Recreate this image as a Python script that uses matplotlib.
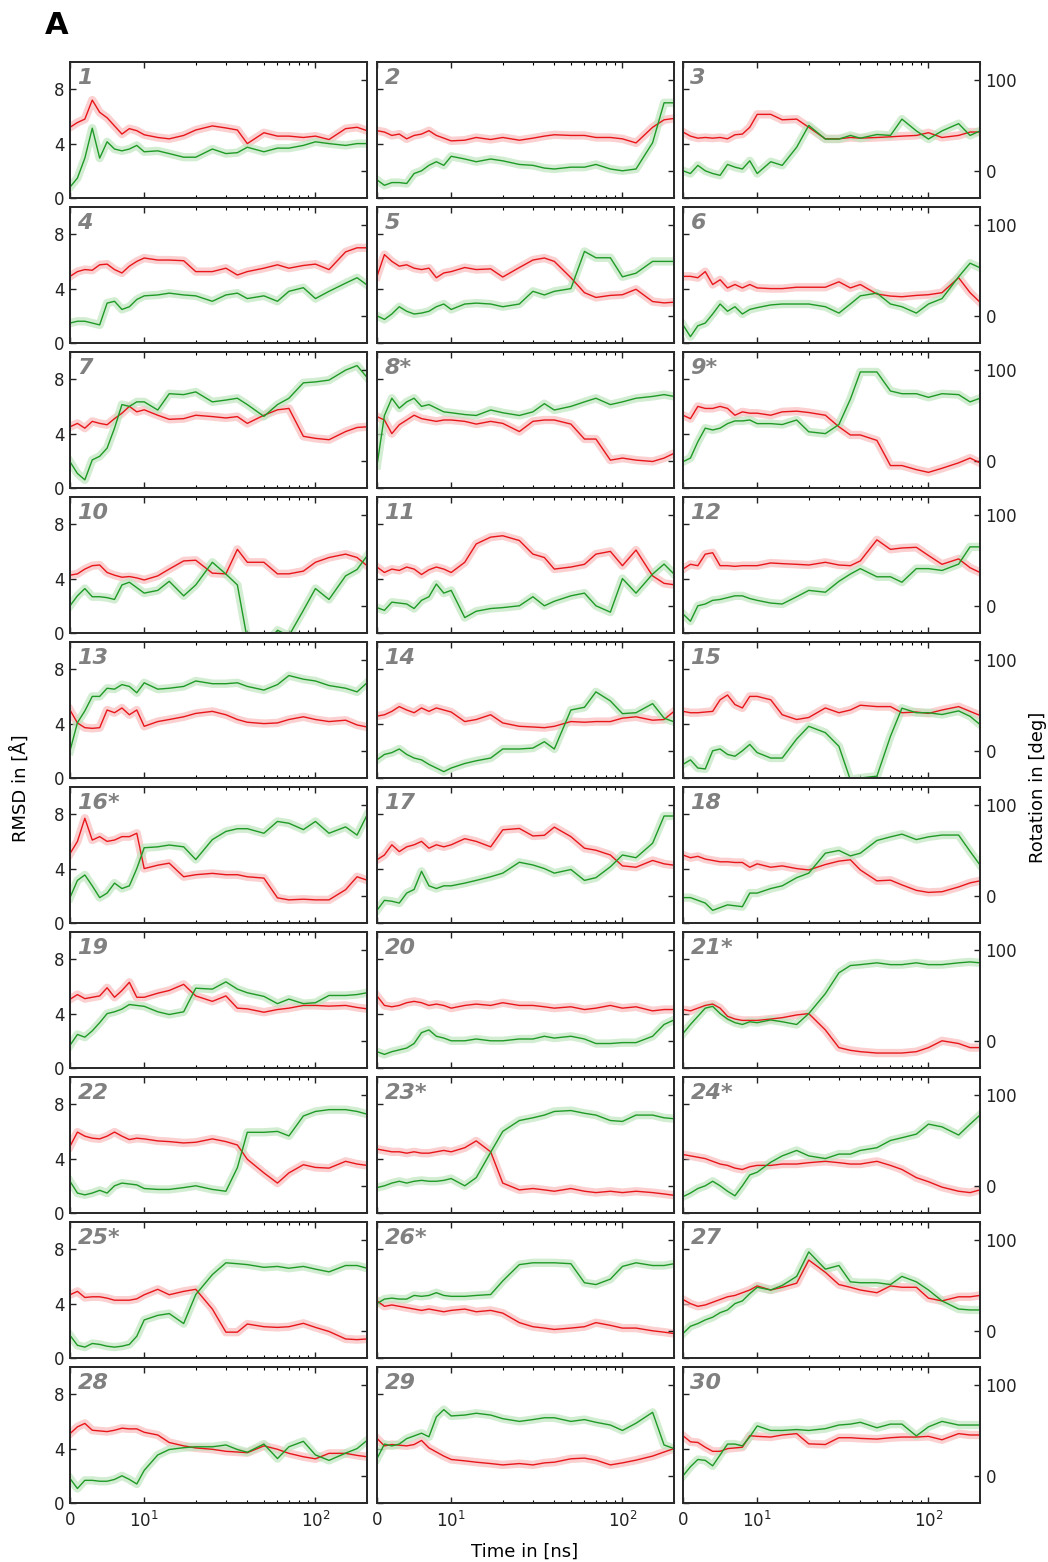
import numpy as np
import matplotlib.pyplot as plt
from matplotlib.ticker import FixedLocator

# time axis of every run [ns]
T = [0, 1, 2, 3, 4, 5, 6, 7, 8, 9, 10, 12, 14, 17, 20, 25, 30, 35, 40, 50,
     60, 70, 85, 100, 120, 150, 175, 200]

run_labels = ['1', '2', '3', '4', '5', '6', '7', '8*', '9*', '10',
              '11', '12', '13', '14', '15', '16*', '17', '18', '19', '20',
              '21*', '22', '23*', '24*', '25*', '26*', '27', '28', '29', '30']

# RMSD [A] (red) and rotation [deg] (green), one pair per run
rmsd_1 = [5.2, 5.55, 5.8, 7.2, 6.3, 5.9, 5.3, 4.7, 5.1, 4.95, 4.65, 4.45, 4.35, 4.6, 5.0, 5.3, 5.15, 5.0, 4.0, 4.8, 4.55, 4.55, 4.45, 4.55, 4.3, 5.1, 5.2, 4.95]
rot_1 = [-18, -8, 14, 47, 14, 32, 24, 22, 24, 28, 21, 22, 19, 15, 15, 24, 19, 20, 26, 21, 25, 25, 28, 32, 30, 28, 30, 30]
rmsd_2 = [4.95, 4.85, 4.6, 4.7, 4.35, 4.6, 4.7, 4.95, 4.6, 4.4, 4.2, 4.25, 4.45, 4.3, 4.45, 4.25, 4.4, 4.55, 4.65, 4.6, 4.6, 4.45, 4.45, 4.35, 4.05, 5.2, 5.75, 5.85]
rot_2 = [-10, -16, -13, -13, -14, -3, 0, 6, 10, 6, 16, 13, 10, 13, 11, 7, 6, 3, 2, 4, 4, 7, 2, 0, 2, 31, 75, 75]
rmsd_3 = [4.85, 4.55, 4.4, 4.45, 4.4, 4.45, 4.35, 4.65, 4.7, 5.2, 6.15, 6.15, 5.75, 5.8, 5.2, 4.35, 4.35, 4.45, 4.4, 4.45, 4.5, 4.55, 4.6, 4.8, 4.45, 4.6, 4.85, 4.85]
rot_3 = [0, -3, 6, 0, -3, -5, 7, 4, 2, 11, -3, 10, 6, 26, 50, 35, 35, 39, 36, 40, 39, 57, 44, 35, 44, 52, 39, 44]
rmsd_4 = [4.9, 5.25, 5.4, 5.35, 5.75, 5.8, 5.4, 5.15, 5.65, 6.0, 6.25, 6.1, 6.1, 6.05, 5.25, 5.25, 5.5, 5.0, 5.25, 5.5, 5.75, 5.5, 5.7, 5.8, 5.4, 6.7, 7.0, 7.0]
rot_4 = [-8, -6, -6, -8, -10, 14, 16, 7, 10, 18, 22, 23, 25, 23, 22, 16, 23, 25, 19, 22, 16, 27, 31, 19, 27, 36, 42, 34]
rmsd_5 = [4.9, 6.5, 6.0, 5.65, 5.75, 5.5, 5.4, 5.5, 4.8, 5.15, 5.25, 5.55, 5.4, 5.45, 4.85, 5.55, 6.1, 6.25, 6.0, 4.8, 3.7, 3.35, 3.5, 3.55, 3.95, 3.05, 2.95, 3.0]
rot_5 = [0, -4, 2, 10, 5, 2, 3, 5, 10, 13, 7, 13, 14, 13, 10, 13, 27, 23, 27, 30, 71, 64, 64, 43, 47, 60, 60, 60]
rmsd_6 = [4.9, 4.9, 4.8, 5.25, 4.3, 4.65, 4.05, 4.3, 4.05, 4.3, 4.05, 4.0, 4.0, 4.1, 4.1, 4.1, 4.5, 4.05, 4.3, 3.6, 3.45, 3.4, 3.5, 3.55, 3.7, 4.8, 3.7, 3.0]
rot_6 = [-10, -23, -11, -8, 2, 13, 5, 10, 2, 7, 9, 12, 13, 13, 13, 10, 3, 13, 22, 25, 13, 10, 3, 13, 19, 43, 58, 53]
rmsd_7 = [4.5, 4.75, 4.4, 4.9, 4.75, 4.65, 5.1, 5.5, 6.0, 5.6, 5.75, 5.35, 5.05, 5.1, 5.35, 5.25, 5.15, 5.25, 4.75, 5.35, 5.75, 5.85, 3.8, 3.65, 3.55, 4.15, 4.45, 4.5]
rot_7 = [-1, -14, -21, 1, 5, 14, 36, 62, 60, 65, 65, 56, 74, 73, 76, 65, 67, 69, 62, 49, 62, 69, 86, 87, 89, 100, 105, 92]
rmsd_8 = [5.25, 5.0, 4.0, 4.65, 5.0, 5.35, 5.1, 5.0, 4.9, 5.0, 5.0, 4.9, 4.7, 4.9, 4.75, 4.15, 4.9, 5.0, 5.0, 4.7, 3.6, 3.6, 2.05, 2.2, 2.05, 1.95, 2.2, 2.55]
rot_8 = [-5, 50, 69, 58, 65, 69, 60, 62, 58, 54, 53, 51, 50, 56, 53, 50, 54, 63, 56, 60, 65, 69, 62, 65, 69, 71, 73, 71]
rmsd_9 = [5.35, 5.1, 6.0, 5.85, 5.85, 6.0, 5.85, 5.35, 5.6, 5.5, 5.5, 5.35, 5.6, 5.65, 5.55, 5.35, 4.5, 3.9, 3.9, 3.5, 1.65, 1.65, 1.35, 1.15, 1.45, 1.85, 2.2, 1.85]
rot_9 = [-1, 3, 21, 36, 34, 36, 41, 44, 44, 45, 41, 41, 40, 45, 32, 30, 40, 68, 98, 98, 77, 74, 74, 70, 74, 73, 65, 69]
rmsd_10 = [4.25, 4.35, 4.7, 4.95, 5.0, 4.45, 4.25, 4.1, 4.15, 4.05, 3.9, 4.2, 4.7, 5.3, 5.35, 4.4, 4.35, 6.15, 5.2, 5.2, 4.35, 4.35, 4.55, 5.2, 5.55, 5.8, 5.55, 4.95]
rot_10 = [0, 11, 19, 10, 10, 9, 7, 23, 26, 20, 14, 17, 27, 11, 23, 48, 35, 23, -37, -45, -27, -33, -5, 19, 7, 33, 40, 55]
rmsd_11 = [4.85, 4.45, 4.7, 4.6, 4.85, 4.7, 4.3, 4.65, 4.85, 4.7, 4.45, 5.2, 6.55, 7.05, 7.15, 6.8, 5.8, 5.55, 4.7, 4.85, 5.05, 5.8, 6.0, 4.95, 6.1, 4.2, 3.65, 3.55]
rot_11 = [-2, -5, 4, 3, 2, -3, 6, 10, 24, 14, 17, -13, -6, -3, -2, 0, 10, 0, 5, 11, 14, 0, -7, 30, 14, 35, 46, 35]
rmsd_12 = [4.7, 5.05, 4.95, 5.8, 5.9, 4.95, 4.95, 4.9, 4.95, 4.95, 4.95, 5.15, 5.1, 5.05, 5.0, 5.2, 5.0, 4.95, 5.3, 6.85, 6.15, 6.25, 6.3, 5.7, 5.05, 5.45, 4.8, 4.45]
rot_12 = [-9, -17, 0, 2, 6, 7, 9, 11, 11, 8, 6, 3, 2, 10, 17, 15, 27, 35, 41, 32, 32, 26, 41, 41, 39, 46, 65, 65]
rmsd_13 = [5.0, 4.05, 3.7, 3.65, 3.7, 5.0, 4.8, 5.15, 4.65, 5.0, 3.8, 4.15, 4.3, 4.5, 4.75, 4.9, 4.65, 4.3, 4.1, 4.0, 4.05, 4.3, 4.5, 4.3, 4.15, 4.25, 3.9, 3.75]
rot_13 = [0, 31, 44, 60, 60, 69, 68, 73, 71, 64, 75, 68, 69, 71, 77, 74, 74, 75, 71, 67, 73, 83, 79, 77, 72, 69, 65, 75]
rmsd_14 = [4.55, 4.65, 4.9, 5.25, 5.0, 4.8, 5.15, 4.9, 5.15, 5.0, 4.85, 4.15, 4.3, 4.65, 4.05, 3.8, 3.75, 3.7, 3.8, 4.15, 4.1, 4.15, 4.15, 4.4, 4.5, 4.25, 4.3, 4.9]
rot_14 = [-10, -4, -2, 2, -4, -8, -10, -15, -19, -23, -19, -14, -11, -8, 2, 2, 3, 10, 2, 45, 48, 65, 55, 41, 42, 52, 36, 32]
rmsd_15 = [4.9, 4.8, 4.8, 4.85, 4.9, 5.75, 6.1, 5.4, 5.15, 6.0, 6.0, 5.75, 4.65, 4.3, 4.45, 5.15, 4.8, 5.0, 5.35, 5.25, 5.25, 4.8, 4.85, 4.75, 5.0, 5.25, 4.9, 4.6]
rot_15 = [-15, -10, -19, -20, 0, 2, -4, -6, 0, 7, -2, -8, -8, 13, 27, 20, 5, -32, -30, -28, 16, 47, 42, 42, 40, 44, 38, 29]
rmsd_16 = [5.1, 6.0, 7.7, 6.1, 6.35, 6.0, 6.1, 6.35, 6.35, 6.6, 4.0, 4.25, 4.4, 3.4, 3.55, 3.65, 3.55, 3.55, 3.4, 3.3, 1.85, 1.7, 1.75, 1.7, 1.7, 2.45, 3.4, 3.15]
rot_16 = [-2, 17, 23, 11, -2, 3, 14, 8, 11, 30, 53, 54, 56, 54, 40, 62, 71, 74, 74, 69, 82, 80, 73, 82, 69, 76, 67, 89]
rmsd_17 = [4.65, 5.0, 5.75, 5.25, 5.6, 5.75, 6.0, 5.5, 5.75, 5.6, 5.75, 6.2, 6.0, 5.6, 6.85, 6.95, 6.4, 6.45, 7.05, 6.35, 5.5, 5.35, 5.0, 4.2, 4.1, 4.6, 4.35, 4.25]
rot_17 = [-16, -5, -6, -8, 3, 7, 27, 11, 8, 11, 11, 14, 17, 21, 25, 37, 34, 30, 25, 29, 17, 20, 32, 45, 42, 58, 88, 88]
rmsd_18 = [5.0, 4.8, 4.9, 4.7, 4.6, 4.5, 4.5, 4.45, 4.45, 4.1, 4.35, 4.1, 4.2, 4.0, 3.9, 4.3, 4.55, 4.65, 3.9, 3.1, 3.15, 2.8, 2.4, 2.25, 2.3, 2.65, 2.95, 3.1]
rot_18 = [-2, -2, -5, -8, -16, -13, -10, -11, -12, 3, 3, 8, 11, 20, 25, 47, 50, 44, 47, 61, 65, 68, 62, 65, 67, 67, 49, 34]
rmsd_19 = [5.05, 5.4, 5.1, 5.2, 5.3, 5.9, 5.2, 5.7, 6.3, 5.2, 5.2, 5.5, 5.7, 6.15, 5.3, 4.9, 5.3, 4.4, 4.35, 4.1, 4.3, 4.4, 4.6, 4.6, 4.55, 4.6, 4.45, 4.35]
rot_19 = [-5, 7, 4, 11, 20, 30, 32, 35, 40, 39, 38, 32, 29, 32, 58, 57, 65, 57, 53, 49, 41, 46, 41, 42, 50, 50, 51, 53]
rmsd_20 = [5.3, 4.6, 4.5, 4.6, 4.8, 4.9, 4.8, 4.6, 4.7, 4.6, 4.4, 4.6, 4.7, 4.6, 4.8, 4.6, 4.6, 4.5, 4.4, 4.5, 4.3, 4.4, 4.6, 4.4, 4.5, 4.2, 4.3, 4.3]
rot_20 = [-12, -15, -12, -10, -8, -3, 9, 12, 5, 3, 0, 0, 2, 0, 0, 2, 2, 5, 3, 5, 2, -3, -3, -2, -2, 5, 18, 23]
rmsd_21 = [4.3, 4.2, 4.4, 4.6, 4.7, 4.4, 3.8, 3.6, 3.5, 3.5, 3.5, 3.6, 3.7, 3.9, 4.0, 2.8, 1.5, 1.3, 1.2, 1.1, 1.1, 1.1, 1.2, 1.5, 2.0, 1.8, 1.5, 1.5]
rot_21 = [8, 18, 27, 36, 38, 30, 24, 20, 18, 21, 20, 23, 21, 18, 30, 52, 75, 83, 84, 86, 84, 84, 86, 84, 84, 86, 87, 86]
rmsd_22 = [4.9, 5.95, 5.65, 5.5, 5.45, 5.65, 5.95, 5.65, 5.4, 5.5, 5.45, 5.3, 5.25, 5.15, 5.2, 5.45, 5.25, 5.0, 3.95, 2.95, 2.2, 2.95, 3.55, 3.35, 3.3, 3.8, 3.6, 3.5]
rot_22 = [5, -8, -10, -8, -5, -8, 0, 3, 2, 1, -3, -4, -4, -2, 0, -4, -6, 20, 59, 59, 60, 55, 77, 82, 84, 84, 82, 79]
rmsd_23 = [4.7, 4.6, 4.5, 4.5, 4.4, 4.5, 4.4, 4.4, 4.5, 4.6, 4.5, 4.8, 5.3, 4.5, 2.2, 1.7, 1.8, 1.7, 1.6, 1.8, 1.6, 1.5, 1.6, 1.5, 1.6, 1.5, 1.4, 1.3]
rot_23 = [-2, 0, 3, 5, 3, 5, 6, 5, 5, 6, 8, 0, 9, 37, 60, 72, 75, 78, 82, 83, 80, 78, 72, 71, 78, 78, 75, 74]
rmsd_24 = [4.3, 4.2, 4.1, 4.0, 3.8, 3.6, 3.5, 3.3, 3.2, 3.4, 3.5, 3.5, 3.6, 3.6, 3.7, 3.8, 3.7, 3.6, 3.6, 3.8, 3.5, 3.2, 2.6, 2.3, 1.9, 1.6, 1.5, 1.7]
rot_24 = [-12, -8, -3, 0, 5, 0, -6, -11, 0, 12, 15, 26, 33, 39, 33, 30, 35, 35, 39, 42, 50, 53, 57, 68, 65, 56, 68, 78]
rmsd_25 = [4.65, 4.9, 4.45, 4.5, 4.5, 4.4, 4.25, 4.25, 4.25, 4.35, 4.65, 5.05, 4.65, 4.9, 5.05, 3.6, 1.9, 1.9, 2.5, 2.3, 2.25, 2.3, 2.55, 2.25, 1.95, 1.4, 1.35, 1.4]
rot_25 = [-5, -16, -18, -14, -15, -17, -18, -17, -15, -6, 12, 17, 19, 8, 40, 62, 75, 74, 73, 70, 71, 69, 71, 68, 65, 72, 72, 69]
rmsd_26 = [4.2, 3.8, 3.9, 3.8, 3.7, 3.6, 3.5, 3.6, 3.5, 3.4, 3.5, 3.6, 3.4, 3.5, 3.3, 2.6, 2.3, 2.2, 2.1, 2.2, 2.3, 2.6, 2.4, 2.2, 2.2, 2.0, 1.9, 1.8]
rot_26 = [30, 35, 36, 35, 35, 39, 38, 39, 42, 39, 38, 38, 39, 40, 55, 73, 75, 75, 75, 74, 53, 51, 57, 71, 75, 72, 72, 74]
rmsd_27 = [4.3, 4.0, 3.8, 3.9, 4.1, 4.3, 4.5, 4.6, 4.8, 5.0, 5.3, 5.0, 5.2, 5.5, 7.2, 6.3, 5.4, 5.2, 5.0, 4.8, 5.3, 5.2, 5.2, 4.4, 4.2, 4.5, 4.5, 4.6]
rot_27 = [-3, 5, 8, 12, 15, 20, 23, 30, 33, 41, 48, 45, 50, 60, 87, 68, 72, 54, 53, 53, 51, 60, 54, 45, 33, 24, 23, 23]
rmsd_28 = [5.1, 5.6, 5.85, 5.35, 5.3, 5.25, 5.35, 5.5, 5.45, 5.45, 5.2, 5.0, 4.45, 4.2, 4.05, 3.95, 3.8, 3.75, 3.7, 4.2, 3.95, 3.65, 3.4, 3.25, 3.65, 3.65, 3.5, 3.4]
rot_28 = [-3, -14, -5, -5, -6, -6, -4, 0, -4, -9, 6, 23, 29, 31, 32, 32, 34, 29, 26, 35, 19, 32, 38, 23, 17, 25, 30, 39]
rmsd_29 = [4.75, 4.2, 4.3, 4.25, 4.2, 4.3, 4.6, 4.05, 3.75, 3.45, 3.2, 3.1, 3.0, 2.9, 2.8, 2.9, 2.8, 2.95, 3.0, 3.25, 3.3, 3.15, 2.8, 2.95, 3.15, 3.45, 3.75, 4.0]
rot_29 = [19, 35, 33, 35, 41, 44, 47, 43, 65, 73, 66, 67, 69, 67, 63, 60, 62, 64, 64, 60, 62, 59, 56, 50, 58, 70, 34, 30]
rmsd_30 = [4.95, 4.5, 4.45, 4.1, 3.8, 3.8, 4.0, 4.05, 4.1, 4.95, 4.9, 4.85, 5.0, 5.1, 4.35, 4.3, 4.8, 4.8, 4.75, 4.7, 4.8, 4.85, 4.85, 4.9, 4.65, 5.1, 5.0, 5.0]
rot_30 = [0, 10, 18, 17, 11, 23, 35, 35, 33, 43, 55, 50, 50, 51, 50, 52, 56, 57, 59, 53, 57, 57, 44, 54, 60, 56, 56, 56]

rmsd_runs = [rmsd_1, rmsd_2, rmsd_3, rmsd_4, rmsd_5, rmsd_6, rmsd_7, rmsd_8, rmsd_9, rmsd_10,
             rmsd_11, rmsd_12, rmsd_13, rmsd_14, rmsd_15, rmsd_16, rmsd_17, rmsd_18, rmsd_19, rmsd_20,
             rmsd_21, rmsd_22, rmsd_23, rmsd_24, rmsd_25, rmsd_26, rmsd_27, rmsd_28, rmsd_29, rmsd_30]
rot_runs = [rot_1, rot_2, rot_3, rot_4, rot_5, rot_6, rot_7, rot_8, rot_9, rot_10,
            rot_11, rot_12, rot_13, rot_14, rot_15, rot_16, rot_17, rot_18, rot_19, rot_20,
            rot_21, rot_22, rot_23, rot_24, rot_25, rot_26, rot_27, rot_28, rot_29, rot_30]

RED = '#e8161b'
GREEN = '#1f9a26'
RED_LIGHT = '#f9bcbc'
GREEN_LIGHT = '#bfe6bf'

plt.rcParams['font.family'] = ['DejaVu Sans']

W, H = 1048, 1562
fig = plt.figure(figsize=(W / 100, H / 100), dpi=100)

col_x = [70, 377, 683]
top0, row_step = 62, 145
pw, ph = 297, 136

for i in range(30):
    r, c = divmod(i, 3)
    ax = fig.add_axes([col_x[c] / W, 1 - (top0 + r * row_step + ph) / H, pw / W, ph / H])
    ax.set_xscale('symlog', linthresh=10, linscale=0.39)
    ax.set_xlim(0, 200)
    ax.set_ylim(0, 10)
    ax2 = ax.twinx()
    ax2.set_ylim(-30, 120)

    # raw traces as a soft band, smoothed traces on top
    ax.plot(T, rmsd_runs[i], color=RED_LIGHT, lw=6, alpha=0.7, solid_joinstyle='round')
    ax.plot(T, rot_runs[i], color=GREEN_LIGHT, lw=6, alpha=0.7, solid_joinstyle='round',
            transform=ax2.transData)
    ax2.plot(T, rmsd_runs[i], color=RED, lw=1.0, transform=ax.transData)
    ax2.plot(T, rot_runs[i], color=GREEN, lw=1.0)

    ax.set_yticks([0, 4, 8])
    ax2.set_yticks([0, 100])
    if c != 0:
        ax.set_yticklabels([])
    if c != 2:
        ax2.set_yticklabels([])

    ax.set_xticks([0, 10, 100])
    ax.xaxis.set_minor_locator(FixedLocator([20, 30, 40, 50, 60, 70, 80, 90, 200]))
    if r == 9:
        ax.set_xticklabels(['0', r'$10^1$', r'$10^2$'])
    else:
        ax.set_xticklabels([])

    for a in (ax, ax2):
        a.tick_params(which='major', direction='in', length=4, width=1, labelsize=12,
                      colors='#222222', pad=4)
        a.tick_params(which='minor', direction='in', length=2.5, width=0.8)
        for s in a.spines.values():
            s.set_linewidth(1.3)
            s.set_color('#2a2a2a')
    ax.tick_params(axis='x', which='both', top=True, bottom=True)
    ax.tick_params(axis='x', which='major', pad=6)

    ax2.text(0.025, 0.955, run_labels[i], transform=ax.transAxes, ha='left', va='top',
             fontsize=16, fontweight='bold', style='italic', color='#808080')

fig.text(45 / W, 1 - 11 / H, 'A', fontsize=22, fontweight='bold', ha='left', va='top')
fig.text(20 / W, 1 - 788 / H, 'RMSD in [Å]', rotation=90, ha='center', va='center', fontsize=13)
fig.text(1038 / W, 1 - 787 / H, 'Rotation in [deg]', rotation=90, ha='center', va='center',
         fontsize=13)
fig.text(525 / W, 1 - 1552 / H, 'Time in [ns]', ha='center', va='center', fontsize=13)

fig.savefig('out.png', dpi=100)
